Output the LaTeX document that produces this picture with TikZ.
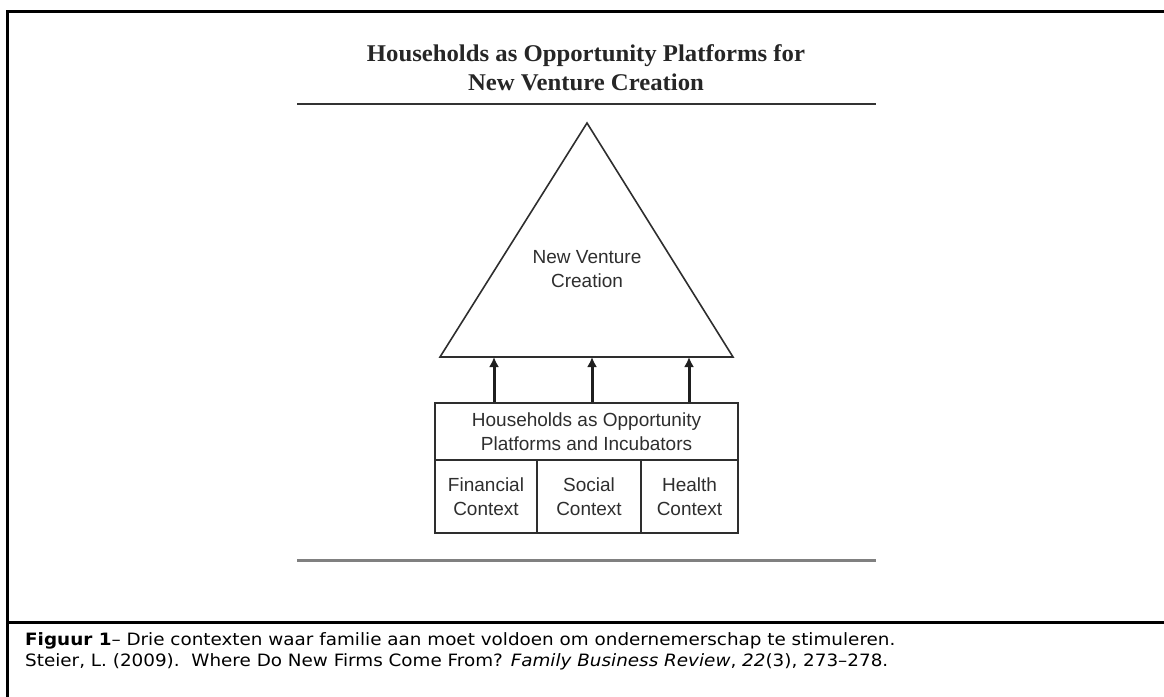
\documentclass[tikz,border=0pt]{standalone}
\usepackage{fontspec}
\setmainfont{Liberation Serif}
\newfontfamily\titlefont[FakeStretch=1.03]{Liberation Serif}
\newfontfamily\diagfont{Liberation Sans}
\newfontfamily\capfont[FakeStretch=1.08]{DejaVu Sans}
\usetikzlibrary{arrows.meta}
\definecolor{ink}{HTML}{2E2E2E}
\definecolor{rulegray}{HTML}{808080}
\tikzset{
  frameline/.style={line width=3pt, black},
  diagtext/.style={font=\diagfont\fontsize{19}{24}\selectfont, text=ink, align=center, inner sep=0pt},
  cellbox/.style={draw=ink, line width=1.7pt, diagtext, minimum height=73pt},
  upflow/.style={draw=black!88, line width=3pt, -{Latex[length=10pt,width=10pt]}},
}
\begin{document}
\begin{tikzpicture}[x=1pt, y=-1pt]
\useasboundingbox (0,0) rectangle (1164,696);

% outer frame and caption separator
\draw[frameline] (1170,11) -- (7,11) -- (7,700);
\draw[frameline] (7,622) -- (1170,622);

% heading and rules
\node[font=\titlefont\bfseries\fontsize{24}{29}\selectfont, text=black!85, align=center, inner sep=0pt] (title) at (586,67.5)
  {Households as Opportunity Platforms for\\New Venture Creation};
\draw[black!80, line width=2.2pt] (297,104) -- (876,104);
\draw[rulegray, line width=3pt] (297,560) -- (876,560);

% triangle
\coordinate (apex) at (587,123);
\coordinate (bl) at (440,357);
\coordinate (br) at (733,357);
\draw[ink, line width=1.6pt, line join=miter] (apex) -- (br) -- (bl) -- cycle;
\node[diagtext] (nvc) at (587,269) {New Venture\\Creation};

% households box and its three contexts
\node[draw=ink, line width=1.7pt, diagtext, minimum width=303pt, minimum height=57pt] (hh) at (586.5,431.5)
  {Households as Opportunity\\Platforms and Incubators};
\node[cellbox, minimum width=102pt] (fin) at (486,496.5) {Financial\\Context};
\node[cellbox, minimum width=104pt] (soc) at (589,496.5) {Social\\Context};
\node[cellbox, minimum width=97pt] (hea) at (689.5,496.5) {Health\\Context};

% arrows into the triangle base
\coordinate (t1) at (494,357);
\coordinate (t2) at (592,357);
\coordinate (t3) at (689,357);
\draw[upflow] (hh.north -| t1) -- (t1);
\draw[upflow] (hh.north -| t2) -- (t2);
\draw[upflow] (hh.north -| t3) -- (t3);

% caption
\node[font=\capfont\fontsize{17}{21}\selectfont, align=left, anchor=west, inner sep=0pt] (cap) at (25,651)
  {\textbf{Figuur 1}– Drie contexten waar familie aan moet voldoen om ondernemerschap te stimuleren.\\
   Steier, L. (2009).\ \ Where Do New Firms Come From? \textit{Family Business Review}, \textit{22}(3), 273–278.};
\end{tikzpicture}
\end{document}
